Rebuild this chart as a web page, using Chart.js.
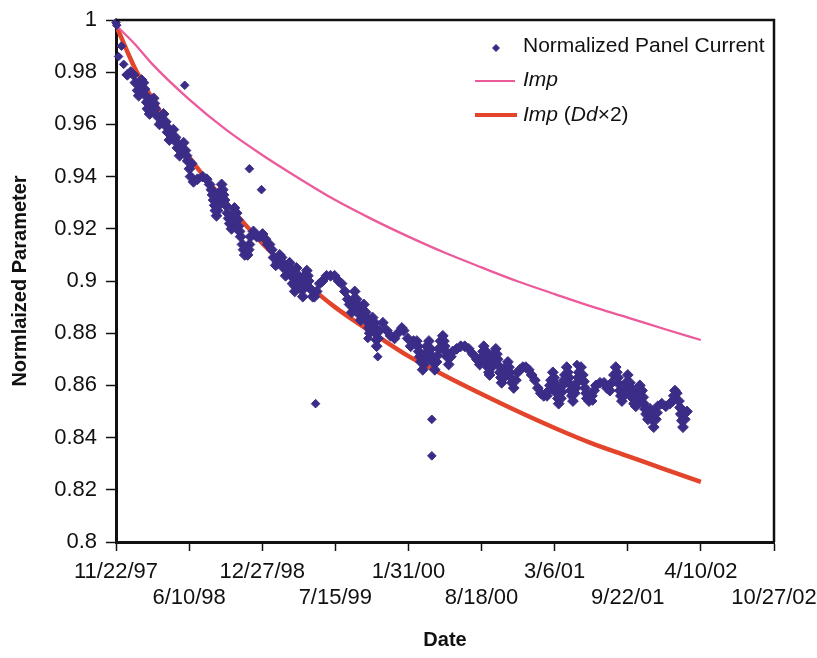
<!DOCTYPE html>
<html>
<head>
<meta charset="utf-8">
<script src="https://cdn.jsdelivr.net/npm/chart.js@4.4.1/dist/chart.umd.min.js"></script>
<style>
  html, body { margin: 0; padding: 0; background: #fff; }
</style>
</head>
<body>
<canvas id="myChart" width="817" height="658"></canvas>
<script>
// x axis is days counted from 11/22/97
const startDate = Date.UTC(1997, 10, 22);
const xMin = 0;
const xMax = 1800;
const xStep = 200;
const yMin = 0.8;
const yMax = 1;
const yStep = 0.02;

const curveDays = [0, 50, 100, 200, 300, 400, 500, 600, 700, 800, 900, 1000, 1100, 1200, 1300, 1400, 1500, 1600];
const impValues = [0.998, 0.991, 0.983, 0.9696, 0.9581, 0.9483, 0.9394, 0.931, 0.9237, 0.917, 0.9108, 0.9052, 0.8998, 0.895, 0.8903, 0.886, 0.8816, 0.8774];
const impDd2Values = [0.998, 0.982, 0.9697, 0.9475, 0.9303, 0.9145, 0.9015, 0.8899, 0.8803, 0.8712, 0.8637, 0.8567, 0.85, 0.8437, 0.8379, 0.8329, 0.8279, 0.823];

// normalized panel current, [day, value] (main band)
const currentPoints = [
  [31, 0.979], [40, 0.980],
  [48, 0.979], [53, 0.976], [59, 0.973], [62, 0.971], [67, 0.973], [68, 0.975], [70, 0.977], [75, 0.976],
  [78, 0.9735], [81, 0.971], [84, 0.9685], [86, 0.966], [92, 0.964], [97, 0.967], [103, 0.970], [105, 0.968],
  [108, 0.966], [114, 0.963], [119, 0.960], [125, 0.961], [130, 0.964], [136, 0.961], [139, 0.959], [141, 0.957],
  [146, 0.954], [152, 0.956], [157, 0.958], [163, 0.955], [166, 0.953], [168, 0.951], [174, 0.948], [179, 0.950],
  [185, 0.953], [190, 0.950], [193, 0.948], [196, 0.946], [201, 0.943], [207, 0.945], [204, 0.940],
  [212, 0.938], [223, 0.939], [237, 0.940], [248, 0.939], [256, 0.937], [261, 0.935], [264, 0.933], [267, 0.931],
  [270, 0.929], [272, 0.927], [275, 0.925], [278, 0.927], [281, 0.929], [282, 0.9315], [283, 0.934], [289, 0.937],
  [292, 0.935], [294, 0.933], [297, 0.931], [300, 0.929], [305, 0.926], [308, 0.924], [311, 0.922], [316, 0.920],
  [322, 0.923], [323, 0.9255], [324, 0.928], [330, 0.926], [333, 0.9235], [335, 0.921], [338, 0.919], [341, 0.917],
  [346, 0.914], [349, 0.912], [352, 0.910], [360, 0.910], [363, 0.912], [365, 0.914], [368, 0.917],
  [376, 0.919], [385, 0.917], [393, 0.917], [401, 0.918], [409, 0.916], [415, 0.914], [420, 0.914],
  [426, 0.912], [431, 0.909], [437, 0.906], [442, 0.907], [448, 0.910], [453, 0.909], [456, 0.907], [459, 0.905],
  [464, 0.902], [467, 0.904], [469, 0.906], [475, 0.907], [480, 0.904], [482, 0.9015], [483, 0.899], [489, 0.896],
  [490, 0.898], [491, 0.900], [492, 0.9025], [494, 0.905], [500, 0.902], [503, 0.8995], [505, 0.897], [511, 0.894],
  [513, 0.897], [515, 0.8995], [516, 0.902], [522, 0.904], [525, 0.902], [527, 0.900], [532, 0.897], [538, 0.894],
  [543, 0.894], [549, 0.896], [557, 0.899], [565, 0.900], [576, 0.902], [587, 0.902], [598, 0.902],
  [609, 0.900], [617, 0.899], [626, 0.896], [634, 0.893], [639, 0.891], [645, 0.888], [648, 0.8905], [650, 0.893],
  [653, 0.896], [658, 0.893], [661, 0.891], [664, 0.889], [667, 0.887], [669, 0.885], [672, 0.887], [675, 0.889],
  [678, 0.891], [683, 0.888], [686, 0.886], [689, 0.884], [692, 0.882], [694, 0.880], [697, 0.881],
  [700, 0.8835], [702, 0.886], [708, 0.884], [709, 0.882], [710, 0.880], [712, 0.8775], [713, 0.875],
  [717, 0.878], [721, 0.881], [730, 0.884], [741, 0.881], [751, 0.879], [762, 0.878], [771, 0.880], [782, 0.882],
  [787, 0.881], [798, 0.878], [806, 0.875], [814, 0.877], [823, 0.877], [826, 0.875], [828, 0.873], [831, 0.871],
  [834, 0.869], [839, 0.866], [842, 0.868], [845, 0.870], [848, 0.8725], [850, 0.875], [856, 0.877], [861, 0.874],
  [863, 0.8715], [866, 0.869], [872, 0.866], [877, 0.869], [880, 0.8715], [883, 0.874],
  [888, 0.877], [894, 0.879], [897, 0.877], [899, 0.875], [902, 0.873], [905, 0.871], [910, 0.868], [916, 0.871],
  [921, 0.873], [932, 0.874], [943, 0.875], [954, 0.875], [965, 0.874], [976, 0.872], [987, 0.870], [995, 0.868],
  [1001, 0.871], [1004, 0.873], [1006, 0.875], [1012, 0.873], [1013, 0.871], [1014, 0.869], [1017, 0.867], [1020, 0.865],
  [1022, 0.864], [1028, 0.867], [1031, 0.8695], [1033, 0.872], [1039, 0.874], [1042, 0.872], [1044, 0.870], [1047, 0.8675],
  [1050, 0.865], [1053, 0.863], [1055, 0.861], [1061, 0.863], [1064, 0.865], [1066, 0.867], [1072, 0.869], [1075, 0.867],
  [1077, 0.865], [1080, 0.863], [1083, 0.861], [1088, 0.859], [1094, 0.862], [1099, 0.865], [1105, 0.866], [1113, 0.867],
  [1121, 0.867], [1129, 0.866], [1137, 0.864], [1146, 0.862], [1154, 0.859], [1162, 0.857], [1170, 0.856], [1179, 0.856],
  [1184, 0.858], [1187, 0.860], [1190, 0.862], [1195, 0.865], [1198, 0.863], [1200, 0.861], [1203, 0.859], [1206, 0.857],
  [1209, 0.855], [1211, 0.853], [1217, 0.855], [1220, 0.8575], [1222, 0.860], [1225, 0.862], [1228, 0.864], [1233, 0.867],
  [1236, 0.865], [1239, 0.863], [1242, 0.8605], [1244, 0.858], [1247, 0.856], [1250, 0.854], [1255, 0.857], [1258, 0.859],
  [1261, 0.861], [1264, 0.863], [1266, 0.865], [1272, 0.867], [1277, 0.864], [1280, 0.8615], [1283, 0.859],
  [1286, 0.857], [1288, 0.855], [1294, 0.854], [1302, 0.856], [1308, 0.858], [1313, 0.860], [1324, 0.861],
  [1335, 0.861], [1343, 0.859], [1351, 0.858], [1356, 0.861], [1362, 0.864], [1367, 0.867], [1370, 0.865], [1373, 0.863],
  [1376, 0.8605], [1378, 0.858], [1381, 0.856], [1384, 0.854], [1389, 0.856], [1392, 0.8585], [1395, 0.861], [1400, 0.864],
  [1406, 0.861], [1409, 0.859], [1411, 0.857], [1414, 0.855], [1417, 0.853], [1422, 0.852], [1425, 0.854], [1428, 0.856],
  [1431, 0.858], [1433, 0.860], [1439, 0.858], [1442, 0.8555], [1444, 0.853], [1447, 0.851], [1450, 0.849], [1455, 0.847],
  [1461, 0.851], [1464, 0.849], [1466, 0.847], [1471, 0.844], [1477, 0.847], [1480, 0.8495], [1482, 0.852], [1493, 0.853],
  [1504, 0.852], [1515, 0.853], [1523, 0.854], [1526, 0.856], [1529, 0.858], [1534, 0.857], [1540, 0.854], [1543, 0.8515],
  [1545, 0.849], [1548, 0.8465], [1551, 0.844], [1556, 0.847], [1562, 0.850]
];

// isolated readings of the same series
const currentOutliers = [
  [0, 0.999], [2, 0.998], [7, 0.986], [15, 0.990], [21, 0.983], [29, 0.979], [188, 0.975], [365, 0.943],
  [398, 0.935], [546, 0.853], [689, 0.878], [716, 0.871], [864, 0.847], [864, 0.833], [1261, 0.868], [1304, 0.854]
];

const FONT = '"Liberation Sans", Arial, sans-serif';
const navy = "#3b2d87";
const pink = "#ec5a9c";
const red = "#e2452b";

function dayLabel(d) {
  const dt = new Date(startDate + d * 86400000);
  return (dt.getUTCMonth() + 1) + "/" + dt.getUTCDate() + "/" + String(dt.getUTCFullYear()).slice(2);
}

function toPoints(xs, ys) {
  return xs.map((x, i) => ({ x: x, y: ys[i] }));
}

function pairsToPoints(list) {
  return list.map((p) => ({ x: p[0], y: p[1] }));
}

// legend sits inside the plot, top right
const insideLegend = {
  id: "insideLegend",
  afterDraw(chart) {
    const ctx = chart.ctx;
    const a = chart.chartArea;
    const lineX0 = a.right - 299;
    const lineX1 = a.right - 257;
    const textX = a.right - 251;
    ctx.save();
    ctx.textBaseline = "middle";

    // diamond marker
    const dx = (lineX0 + lineX1) / 2;
    const dy = a.top + 28;
    ctx.beginPath();
    ctx.moveTo(dx - 4, dy);
    ctx.lineTo(dx, dy - 4);
    ctx.lineTo(dx + 4, dy);
    ctx.lineTo(dx, dy + 4);
    ctx.closePath();
    ctx.fillStyle = navy;
    ctx.fill();
    ctx.fillStyle = "#111";
    ctx.font = "21px " + FONT;
    ctx.fillText(chart.data.datasets[0].label, textX, a.top + 26);

    // Imp
    ctx.strokeStyle = pink;
    ctx.lineWidth = 2;
    ctx.beginPath();
    ctx.moveTo(lineX0, a.top + 61);
    ctx.lineTo(lineX1 - 2, a.top + 61);
    ctx.stroke();
    ctx.font = "italic 21px " + FONT;
    ctx.fillText("Imp", textX, a.top + 60);

    // Imp (Dd x 2)
    ctx.strokeStyle = red;
    ctx.lineWidth = 4;
    ctx.beginPath();
    ctx.moveTo(lineX0, a.top + 95);
    ctx.lineTo(lineX1, a.top + 95);
    ctx.stroke();
    const parts = [
      ["italic", "Imp"],
      ["normal", " ("],
      ["italic", "Dd"],
      ["normal", "\u00d72)"]
    ];
    let x = textX;
    parts.forEach((p) => {
      ctx.font = (p[0] === "italic" ? "italic " : "") + "21px " + FONT;
      ctx.fillText(p[1], x, a.top + 95);
      x += ctx.measureText(p[1]).width;
    });
    ctx.restore();
  }
};

// top and right frame lines
const frame = {
  id: "frame",
  afterDraw(chart) {
    const ctx = chart.ctx;
    const a = chart.chartArea;
    ctx.save();
    ctx.strokeStyle = "#111";
    ctx.lineWidth = 2.5;
    ctx.beginPath();
    ctx.moveTo(a.left, a.top);
    ctx.lineTo(a.right, a.top);
    ctx.lineTo(a.right, a.bottom);
    ctx.stroke();
    ctx.restore();
  }
};

const data = {
  datasets: [
    {
      label: "Normalized Panel Current",
      data: pairsToPoints(currentPoints),
      showLine: false,
      pointStyle: "rectRot",
      pointRadius: 5.4,
      pointBackgroundColor: navy,
      pointBorderColor: navy,
      pointBorderWidth: 1,
      clip: false
    },
    {
      label: "Normalized Panel Current",
      data: pairsToPoints(currentOutliers),
      showLine: false,
      pointStyle: "rectRot",
      pointRadius: 4.3,
      pointBackgroundColor: navy,
      pointBorderColor: navy,
      pointBorderWidth: 1,
      clip: false
    },
    {
      label: "Imp",
      data: toPoints(curveDays, impValues),
      showLine: true,
      borderColor: pink,
      borderWidth: 2.3,
      pointRadius: 0,
      cubicInterpolationMode: "monotone"
    },
    {
      label: "Imp (Dd\u00d72)",
      data: toPoints(curveDays, impDd2Values),
      showLine: true,
      borderColor: red,
      borderWidth: 4.5,
      pointRadius: 0,
      cubicInterpolationMode: "monotone"
    }
  ]
};

const config = {
  type: "scatter",
  data: data,
  options: {
    responsive: false,
    animation: false,
    devicePixelRatio: 1,
    layout: { padding: { left: 0, top: 20, right: 43, bottom: 0 } },
    plugins: {
      legend: { display: false },
      tooltip: { enabled: false }
    },
    scales: {
      x: {
        type: "linear",
        min: xMin,
        max: xMax,
        afterFit: (s) => {
          s.height = 116;
          s.paddingLeft = 0;
          s.paddingRight = 0;
        },
        afterBuildTicks: (s) => {
          const t = [];
          for (let v = xMin; v <= xMax; v += xStep) t.push({ value: v });
          s.ticks = t;
        },
        border: { color: "#111", width: 3 },
        grid: {
          drawOnChartArea: false,
          drawTicks: true,
          tickLength: 9,
          tickColor: "#111",
          tickWidth: 1.5
        },
        ticks: {
          autoSkip: false,
          maxRotation: 0,
          padding: 8,
          color: "#111",
          font: { family: FONT, size: 22, lineHeight: 1.18 },
          callback: (v, i) => (i % 2 === 0 ? [dayLabel(v), ""] : ["", dayLabel(v)])
        },
        title: {
          display: true,
          text: "Date",
          color: "#111",
          font: { family: FONT, size: 20, weight: "bold" },
          padding: { top: 0, bottom: 6 }
        }
      },
      y: {
        min: yMin,
        max: yMax,
        afterFit: (s) => {
          s.width = 116;
          s.paddingTop = 0;
          s.paddingBottom = 0;
        },
        afterBuildTicks: (s) => {
          const t = [];
          for (let k = 0; k <= Math.round((yMax - yMin) / yStep); k++) t.push({ value: +(yMin + k * yStep).toFixed(2) });
          s.ticks = t;
        },
        border: { color: "#111", width: 3 },
        grid: {
          drawOnChartArea: false,
          drawTicks: true,
          tickLength: 10,
          tickColor: "#111",
          tickWidth: 1.5
        },
        ticks: {
          padding: 9,
          color: "#111",
          font: { family: FONT, size: 22 },
          callback: (v) => String(+v.toFixed(2))
        },
        title: {
          display: true,
          text: "Normlaized Parameter",
          color: "#111",
          font: { family: FONT, size: 20, weight: "bold" },
          padding: { top: 8, bottom: 0 }
        }
      }
    }
  },
  plugins: [insideLegend, frame]
};

let myChart = new Chart(document.getElementById("myChart"), config);
</script>
</body>
</html>
